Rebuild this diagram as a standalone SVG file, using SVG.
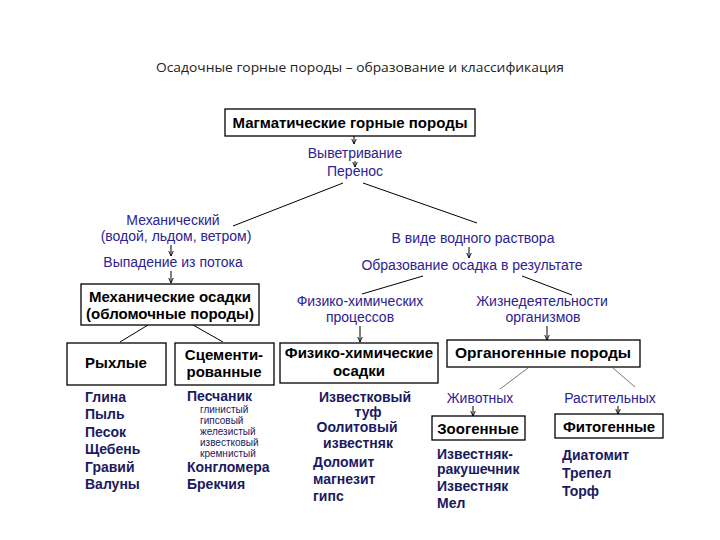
<svg xmlns="http://www.w3.org/2000/svg" width="720" height="540" viewBox="0 0 720 540">
<defs>
<marker id="ah" viewBox="0 0 6 6" refX="5.5" refY="3" markerWidth="6" markerHeight="6" orient="auto" markerUnits="userSpaceOnUse">
<path d="M0,0.5 L5.5,3 L0,5.5" fill="none" stroke="#000" stroke-width="0.9"/>
</marker>
</defs>
<style>
.box{fill:#fff;stroke:#000;stroke-width:1.3}
.bt{font-family:"Liberation Sans",Arial,sans-serif;font-weight:bold;font-size:15px;fill:#000;text-anchor:middle}
.lbl{font-family:"Liberation Sans",Arial,sans-serif;font-size:14px;fill:#2c2290;text-anchor:middle}
.li{font-family:"Liberation Sans",Arial,sans-serif;font-weight:bold;font-size:14px;fill:#1a1a60}
.sm{font-family:"Liberation Sans",Arial,sans-serif;font-size:10px;fill:#1a1a60}
.ln{stroke:#000;stroke-width:1;fill:none}
.lg{stroke:#777;stroke-width:1;fill:none}
.ar{stroke:#000;stroke-width:1;fill:none;marker-end:url(#ah)}
.title{font-family:"Open Sans","Liberation Sans",sans-serif;font-size:13px;fill:#222;text-anchor:middle}
</style>
<rect width="720" height="540" fill="#fff"/>
<text class="title" x="360" y="72" textLength="408" lengthAdjust="spacingAndGlyphs">Осадочные горные породы – образование и классификация</text>

<g id="connectors">
<line class="ar" x1="354" y1="136" x2="354" y2="144"/>
<line class="ar" x1="355" y1="161" x2="355" y2="167"/>
<line class="ln" x1="343" y1="183" x2="233" y2="226"/>
<line class="ln" x1="363" y1="183" x2="477" y2="223"/>
<line class="ar" x1="171" y1="245" x2="171" y2="256"/>
<line class="ar" x1="171" y1="271" x2="171" y2="283"/>
<line class="ar" x1="469" y1="247" x2="469" y2="258"/>
<line class="ln" x1="148" y1="325" x2="120" y2="342"/>
<line class="ln" x1="193" y1="325" x2="223" y2="342"/>
<line class="ln" x1="423" y1="276" x2="362" y2="294"/>
<line class="ln" x1="522" y1="276" x2="572" y2="295"/>
<line class="ar" x1="360" y1="326" x2="360" y2="342"/>
<line class="ar" x1="547" y1="326" x2="547" y2="340"/>
<line class="lg" x1="528" y1="368" x2="500" y2="389"/>
<line class="lg" x1="613" y1="368" x2="635" y2="387"/>
<line class="ar" x1="473" y1="406" x2="473" y2="416"/>
<line class="ar" x1="618" y1="406" x2="618" y2="414"/>
</g>

<g id="magmatic">
<rect class="box" x="225" y="109" width="250" height="27"/>
<text class="bt" x="350" y="128">Магматические горные породы</text>
</g>
<g id="weathering">
<text class="lbl" x="355" y="158">Выветривание</text>
<text class="lbl" x="355" y="176">Перенос</text>
</g>
<g id="mechanical">
<text class="lbl" x="173" y="225">Механический</text>
<text class="lbl" x="176" y="241">(водой, льдом, ветром)</text>
</g>
<g id="fallout">
<text class="lbl" x="173" y="267">Выпадение из потока</text>
</g>
<g id="mech-sediments">
<rect class="box" x="81" y="284" width="178" height="41"/>
<text class="bt" x="170" y="302">Механические осадки</text>
<text class="bt" x="170" y="319">(обломочные породы)</text>
</g>
<g id="solution">
<text class="lbl" x="473" y="243">В виде водного раствора</text>
<text class="lbl" x="472" y="270">Образование осадка в результате</text>
</g>
<g id="physchem-proc">
<text class="lbl" x="360" y="306">Физико-химических</text>
<text class="lbl" x="360" y="322">процессов</text>
</g>
<g id="life">
<text class="lbl" x="542" y="306">Жизнедеятельности</text>
<text class="lbl" x="543" y="322">организмов</text>
</g>
<g id="loose">
<rect class="box" x="67" y="343" width="99" height="42"/>
<text class="bt" x="116" y="368">Рыхлые</text>
<text class="li" x="85" y="402">Глина</text>
<text class="li" x="85" y="419">Пыль</text>
<text class="li" x="85" y="437">Песок</text>
<text class="li" x="85" y="454">Щебень</text>
<text class="li" x="85" y="472">Гравий</text>
<text class="li" x="85" y="489">Валуны</text>
</g>
<g id="cemented">
<rect class="box" x="175" y="343" width="99" height="42"/>
<text class="bt" x="224" y="360">Сцементи-</text>
<text class="bt" x="224" y="377">рованные</text>
<text class="li" x="187" y="401">Песчаник</text>
<text class="sm" x="200" y="413">глинистый</text>
<text class="sm" x="200" y="424">гипсовый</text>
<text class="sm" x="200" y="435">железистый</text>
<text class="sm" x="200" y="446">известковый</text>
<text class="sm" x="200" y="457">кремнистый</text>
<text class="li" x="187" y="472">Конгломера</text>
<text class="li" x="187" y="489">Брекчия</text>
</g>
<g id="physchem-sed">
<rect class="box" x="280" y="343" width="158" height="40"/>
<text class="bt" x="359" y="358">Физико-химические</text>
<text class="bt" x="359" y="376">осадки</text>
<text class="li" x="365" y="402" text-anchor="middle">Известковый</text>
<text class="li" x="368" y="417" text-anchor="middle">туф</text>
<text class="li" x="357" y="432" text-anchor="middle">Оолитовый</text>
<text class="li" x="358" y="448" text-anchor="middle">известняк</text>
<text class="li" x="313" y="467">Доломит</text>
<text class="li" x="313" y="484">магнезит</text>
<text class="li" x="313" y="501">гипс</text>
</g>
<g id="organogenic">
<rect class="box" x="447" y="340" width="193" height="27"/>
<text class="bt" x="543" y="358" style="font-size:15.5px">Органогенные породы</text>
</g>
<g id="animal">
<text class="lbl" x="480" y="403">Животных</text>
</g>
<g id="plant">
<text class="lbl" x="610" y="403">Растительных</text>
</g>
<g id="zoogenic">
<rect class="box" x="432" y="416" width="93" height="24"/>
<text class="bt" x="478" y="434">Зоогенные</text>
<text class="li" x="437" y="459">Известняк-</text>
<text class="li" x="437" y="474">ракушечник</text>
<text class="li" x="437" y="491">Известняк</text>
<text class="li" x="437" y="508">Мел</text>
</g>
<g id="phytogenic">
<rect class="box" x="555" y="414" width="108" height="24"/>
<text class="bt" x="609" y="432">Фитогенные</text>
<text class="li" x="562" y="460">Диатомит</text>
<text class="li" x="562" y="478">Трепел</text>
<text class="li" x="562" y="496">Торф</text>
</g>
</svg>
